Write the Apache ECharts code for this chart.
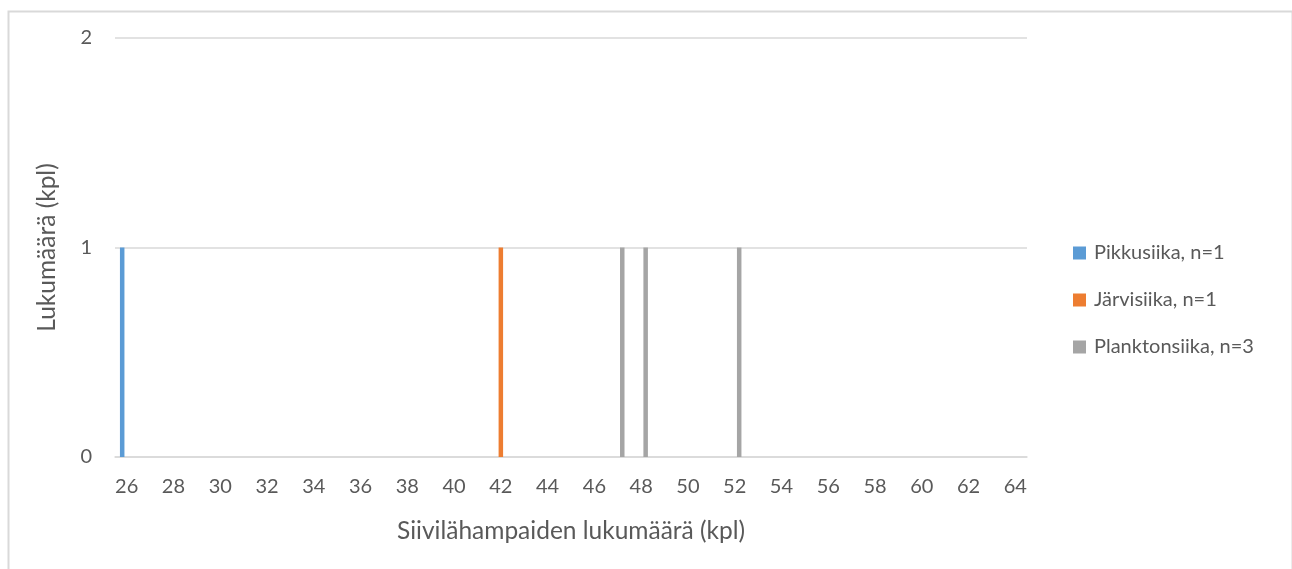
<!DOCTYPE html>
<html>
<head>
<meta charset="utf-8">
<title>Siivilähampaiden lukumäärä</title>
<script src="https://cdn.jsdelivr.net/npm/echarts@6/dist/echarts.min.js"></script>
<style>
  html, body { margin: 0; padding: 0; background: #ffffff; }
  #chart { width: 1292px; height: 569px; }
</style>
</head>
<body>
<div id="chart"></div>
<script>
// Gill raker counts (x categories) and number of fish per count
const categories = ['26','27','28','29','30','31','32','33','34','35','36','37','38','39','40','41','42','43','44','45',
  '46','47','48','49','50','51','52','53','54','55','56','57','58','59','60','61','62','63','64'];
const yTicks = [0, 1, 2];

// [raker count, fish count] pairs per whitefish form
const pikkusiika = [[26, 1]];
const jarvisiika = [[42, 1]];
const planktonsiika = [[47, 1], [48, 1], [52, 1]];

const seriesNames = ['Pikkusiika, n=1', 'Järvisiika, n=1', 'Planktonsiika, n=3'];
const seriesColors = ['#5b9bd5', '#ed7d31', '#a5a5a5'];

function toCategoryData(pairs) {
  const data = categories.map(() => null);
  pairs.forEach(([raker, count]) => {
    const idx = categories.indexOf(String(raker));
    if (idx >= 0) data[idx] = count;
  });
  return data;
}

const textColor = '#595959';
const gridColor = '#d9d9d9';
const fontFamily = 'Lato, "Open Sans", sans-serif';

const chart = echarts.init(document.getElementById('chart'), null, { renderer: 'canvas' });

chart.setOption({
  backgroundColor: '#ffffff',
  animation: false,
  graphic: [{
    type: 'rect',
    left: 6, top: 9,
    shape: { width: 1284, height: 600 },
    style: { fill: 'none', stroke: gridColor, lineWidth: 2 },
    silent: true
  }],
  grid: { left: 115, right: 265, top: 38, bottom: 112 },
  legend: {
    orient: 'vertical',
    left: 1068,
    top: 238,
    itemWidth: 13,
    itemHeight: 13,
    itemGap: 27,
    icon: 'rect',
    textStyle: { color: textColor, fontSize: 20, fontFamily: fontFamily, padding: [0, 0, 0, 3] },
    data: seriesNames
  },
  xAxis: {
    type: 'category',
    data: categories,
    name: 'Siivilähampaiden lukumäärä (kpl)',
    nameLocation: 'middle',
    nameGap: 62,
    nameTextStyle: { color: textColor, fontSize: 24.5, fontFamily: fontFamily },
    axisLine: { show: true, lineStyle: { color: gridColor, width: 1.5 } },
    axisTick: { show: false },
    axisLabel: { interval: 1, color: textColor, fontSize: 20, fontFamily: fontFamily, margin: 20 },
    splitLine: { show: false }
  },
  yAxis: {
    type: 'value',
    min: yTicks[0],
    max: yTicks[yTicks.length - 1],
    interval: 1,
    name: 'Lukumäärä (kpl)',
    nameLocation: 'middle',
    nameGap: 55,
    nameTextStyle: { color: textColor, fontSize: 24.5, fontFamily: fontFamily },
    axisLine: { show: false },
    axisTick: { show: false },
    axisLabel: { color: textColor, fontSize: 20, fontFamily: fontFamily, margin: 23 },
    splitLine: { show: true, lineStyle: { color: gridColor, width: 1.5 } }
  },
  series: [pikkusiika, jarvisiika, planktonsiika].map((pairs, i) => ({
    name: seriesNames[i],
    type: 'bar',
    data: toCategoryData(pairs),
    barWidth: 4.5,
    barGap: '0%',
    itemStyle: { color: seriesColors[i] }
  }))
});
</script>
</body>
</html>
